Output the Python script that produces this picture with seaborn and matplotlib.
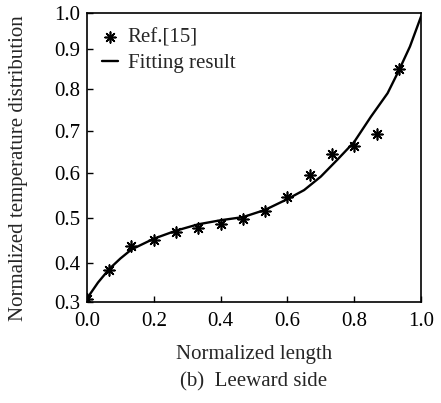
import numpy as np
import pandas as pd
import matplotlib
matplotlib.use("Agg")
import matplotlib.pyplot as plt
import seaborn as sns

# Reference data (Ref.[15])
ref_x = [0.0, 0.067, 0.133, 0.2, 0.267, 0.333, 0.4, 0.467, 0.533, 0.6, 0.667, 0.733, 0.8, 0.867, 0.933]
ref_y = [0.307, 0.381, 0.437, 0.452, 0.469, 0.477, 0.486, 0.497, 0.516, 0.546, 0.595, 0.646, 0.665, 0.694, 0.850]

# Fitting result
fit_x = [0.0, 0.033, 0.067, 0.1, 0.133, 0.2, 0.267, 0.333, 0.4, 0.467, 0.533, 0.6, 0.65, 0.7, 0.75, 0.8, 0.85, 0.9, 0.933, 0.967, 1.0]
fit_y = [0.309, 0.350, 0.385, 0.410, 0.430, 0.454, 0.472, 0.486, 0.495, 0.502, 0.518, 0.542, 0.562, 0.592, 0.632, 0.674, 0.734, 0.790, 0.845, 0.907, 0.990]

x_ticks = [0.0, 0.2, 0.4, 0.6, 0.8, 1.0]
y_ticks = [0.3, 0.4, 0.5, 0.6, 0.7, 0.8, 0.9, 1.0]
# the original y axis is hand-spaced (non-uniform); relative positions of its ticks
y_tick_pos = [0.0, 39, 84, 129, 171, 213, 253, 289]

sns.set_theme(style="ticks")
plt.rcParams['font.family'] = ['Liberation Serif', 'DejaVu Serif']

FS = 15

fig = plt.figure(figsize=(4.41, 4.03), dpi=100)
ax = fig.add_axes([87/441, 1 - 302/403, (421 - 87)/441, (302 - 13)/403])

pos = np.array(y_tick_pos, dtype=float)
vals = np.array(y_ticks, dtype=float)

def fwd(v):
    return np.interp(v, vals, pos)

def inv(p):
    return np.interp(p, pos, vals)

ax.set_yscale('function', functions=(fwd, inv))

df_fit = pd.DataFrame({"x": fit_x, "y": fit_y})
df_ref = pd.DataFrame({"x": ref_x, "y": ref_y})

sns.lineplot(data=df_fit, x="x", y="y", ax=ax, color="black", linewidth=1.7,
             label="Fitting result", sort=False)
sns.scatterplot(data=df_ref, x="x", y="y", ax=ax, marker=(8, 2, 0), s=60,
                color="black", linewidth=1.2, label="Ref.[15]", zorder=3)

ax.set_xlim(0, 1.0)
ax.set_ylim(0.3, 1.0)
ax.set_xticks(x_ticks)
ax.set_xticklabels([f"{v:.1f}" for v in x_ticks])
ax.set_yticks(y_ticks)
ax.set_yticklabels([f"{v:.1f}" for v in y_ticks])
ax.minorticks_off()
ax.tick_params(direction="in", length=4, width=1, labelsize=FS, color="black",
               labelcolor="black")
ax.tick_params(axis="x", pad=7)
ax.tick_params(axis="y", pad=5)
for s in ax.spines.values():
    s.set_linewidth(1.2)
    s.set_color("black")
    s.set_visible(True)

ax.set_xlabel("")
ax.set_ylabel("Normalized temperature distribution", fontsize=FS)
ax.yaxis.set_label_coords((28 - 87) / 334, (302 - 168) / 289)

handles, labels = ax.get_legend_handles_labels()
order = [labels.index("Ref.[15]"), labels.index("Fitting result")]
leg = ax.legend([handles[i] for i in order], [labels[i] for i in order],
                loc="upper left", frameon=False, fontsize=FS,
                handlelength=0.8, handletextpad=0.45, borderaxespad=0.3,
                labelspacing=0.3, bbox_to_anchor=(0.0, 1.0))

fig.text((87 + 421) / 2 / 441, 1 - 354 / 403, "Normalized length",
         ha="center", va="center", fontsize=FS)
fig.text((87 + 421) / 2 / 441, 1 - 382 / 403, "(b)  Leeward side",
         ha="center", va="center", fontsize=FS)

fig.savefig("out.png", dpi=100)
